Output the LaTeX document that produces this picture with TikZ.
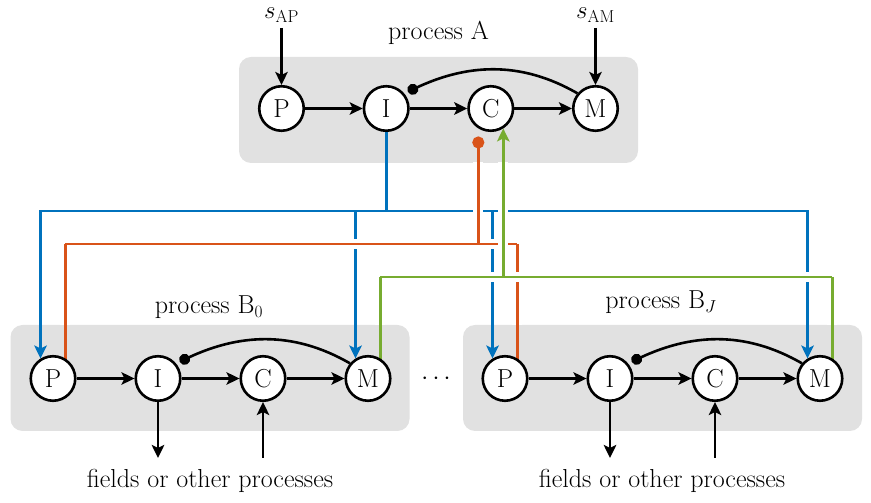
\documentclass[tikz,border=0pt]{standalone}
\usetikzlibrary{arrows.meta}
\definecolor{mblue}{HTML}{0072BD}
\definecolor{morange}{HTML}{D95319}
\definecolor{mgreen}{HTML}{77AC30}
\definecolor{boxgrey}{HTML}{E1E1E1}
\pgfdeclarelayer{bg}
\pgfdeclarelayer{wires}
\pgfsetlayers{bg,wires,main}
\newcommand{\bigtext}{\fontsize{26}{31}\selectfont}
\begin{document}
\begin{tikzpicture}[x=1pt,y=1pt,
  >={Stealth[length=13pt,width=12.5pt,inset=3pt]},
  proc/.style={circle, draw=black, line width=2.6pt, fill=white,
    minimum size=44.5pt, inner sep=0pt, font=\bigtext},
  procbox/.style={fill=boxgrey, rounded corners=12pt, inner sep=0pt,
    minimum width=399pt, minimum height=106pt},
  link/.style={line width=2.6pt},
  touch/.style={link, shorten >=-1.5pt},
  fbk/.style={line width=2.6pt, -{Circle[length=11pt]}, shorten >=4pt},
  halo/.style={draw=white, line width=10pt},
  lbl/.style={font=\bigtext, inner sep=0pt, anchor=base}]
\useasboundingbox (0,0) rectangle (871,503);

% process containers
\begin{pgfonlayer}{bg}
  \node[procbox] (boxA) at (438.5,393) {};
  \node[procbox] (boxB) at (210,125) {};
  \node[procbox] (boxJ) at (662.5,125) {};
\end{pgfonlayer}

% states of process A
\node[proc] (pA) at (281.5,394.5) {P};
\node[proc] (iA) at (386.2,394.5) {I};
\node[proc] (cA) at (490.8,394.5) {C};
\node[proc] (mA) at (595.5,394.5) {M};

% states of process B_0
\node[proc] (pB) at (53,124.5) {P};
\node[proc] (iB) at (158,124.5) {I};
\node[proc] (cB) at (263,124.5) {C};
\node[proc] (mB) at (368,124.5) {M};

% states of process B_J
\node[proc] (pJ) at (505,124.5) {P};
\node[proc] (iJ) at (610,124.5) {I};
\node[proc] (cJ) at (715,124.5) {C};
\node[proc] (mJ) at (820,124.5) {M};

% labels
\node[lbl] (labA) at (438.5,463) {process A};
\node[lbl] (labB) at (209,189) {process B$_0$};
\node[lbl] (labJ) at (661,194) {process B$_J$};
\node[lbl] (sAP) at (281.5,484) {$s_{\mathrm{AP}}$};
\node[lbl] (sAM) at (595.5,484) {$s_{\mathrm{AM}}$};
\node[lbl] (fB) at (210,15) {fields or other processes};
\node[lbl] (fJ) at (662,15) {fields or other processes};
\node[font=\bigtext, inner sep=0pt] (dots) at (436,124.5) {$\cdots$};

% levels of the coupling buses
\coordinate (bl) at (0,292);
\coordinate (ol) at (0,259);
\coordinate (gl) at (0,226);
\coordinate (fo) at (0,45);

\begin{pgfonlayer}{wires}
  % blue bus: I of A drives P and M of every B
  \draw[link, mblue] (iA.south) -- (iA.south |- bl);
  \draw[link, mblue, <->] (pB.122) -- (pB.122 |- bl) -- (mJ.122 |- bl) -- (mJ.122);
  \draw[link, mblue, ->] (mB.122 |- bl) -- (mB.122);
  \draw[link, mblue, ->] (pJ.122 |- bl) -- (pJ.122);

  % orange bus, passing over the blue one
  \begin{scope}
    \clip (0,178) rectangle (871,340);
    \draw[halo] (pB.58) -- (pB.58 |- ol) -- (pJ.58 |- ol) -- (pJ.58);
    \draw[halo] (cA.238 |- ol) -- (cA.238);
  \end{scope}
  \draw[touch, morange] (pB.58 |- ol) -- (pB.58);
  \draw[link, morange] (pB.58 |- ol) -- (pJ.58 |- ol);
  \draw[touch, morange] (pJ.58 |- ol) -- (pJ.58);
  \draw[link, morange, {Circle[length=12pt]}-, shorten <=8pt] (cA.238) -- (cA.238 |- ol);

  % green bus, passing over both
  \begin{scope}
    \clip (0,178) rectangle (871,340);
    \draw[halo] (mB.58) -- (mB.58 |- gl) -- (mJ.58 |- gl) -- (mJ.58);
    \draw[halo] (cA.302 |- gl) -- (cA.302);
  \end{scope}
  \draw[touch, mgreen] (mB.58 |- gl) -- (mB.58);
  \draw[link, mgreen] (mB.58 |- gl) -- (mJ.58 |- gl);
  \draw[touch, mgreen] (mJ.58 |- gl) -- (mJ.58);
  \draw[link, mgreen, ->] (cA.302 |- gl) -- (cA.302);
\end{pgfonlayer}

% inputs of process A
\draw[link, ->, shorten <=5pt] (pA |- sAP.south) -- (pA);
\draw[link, ->, shorten <=5pt] (mA |- sAM.south) -- (mA);

% chains inside each process
\foreach \p/\i/\c/\m in {pA/iA/cA/mA, pB/iB/cB/mB, pJ/iJ/cJ/mJ}{
  \draw[link, ->] (\p) -- (\i);
  \draw[link, ->] (\i) -- (\c);
  \draw[link, ->] (\c) -- (\m);
  \draw[fbk] (\m.140) to[out=150, in=25] (\i.40);
}

% exchange with fields or other processes
\draw[link, ->] (iB) -- (iB |- fo);
\draw[link, ->] (cB |- fo) -- (cB);
\draw[link, ->] (iJ) -- (iJ |- fo);
\draw[link, ->] (cJ |- fo) -- (cJ);
\end{tikzpicture}
\end{document}
